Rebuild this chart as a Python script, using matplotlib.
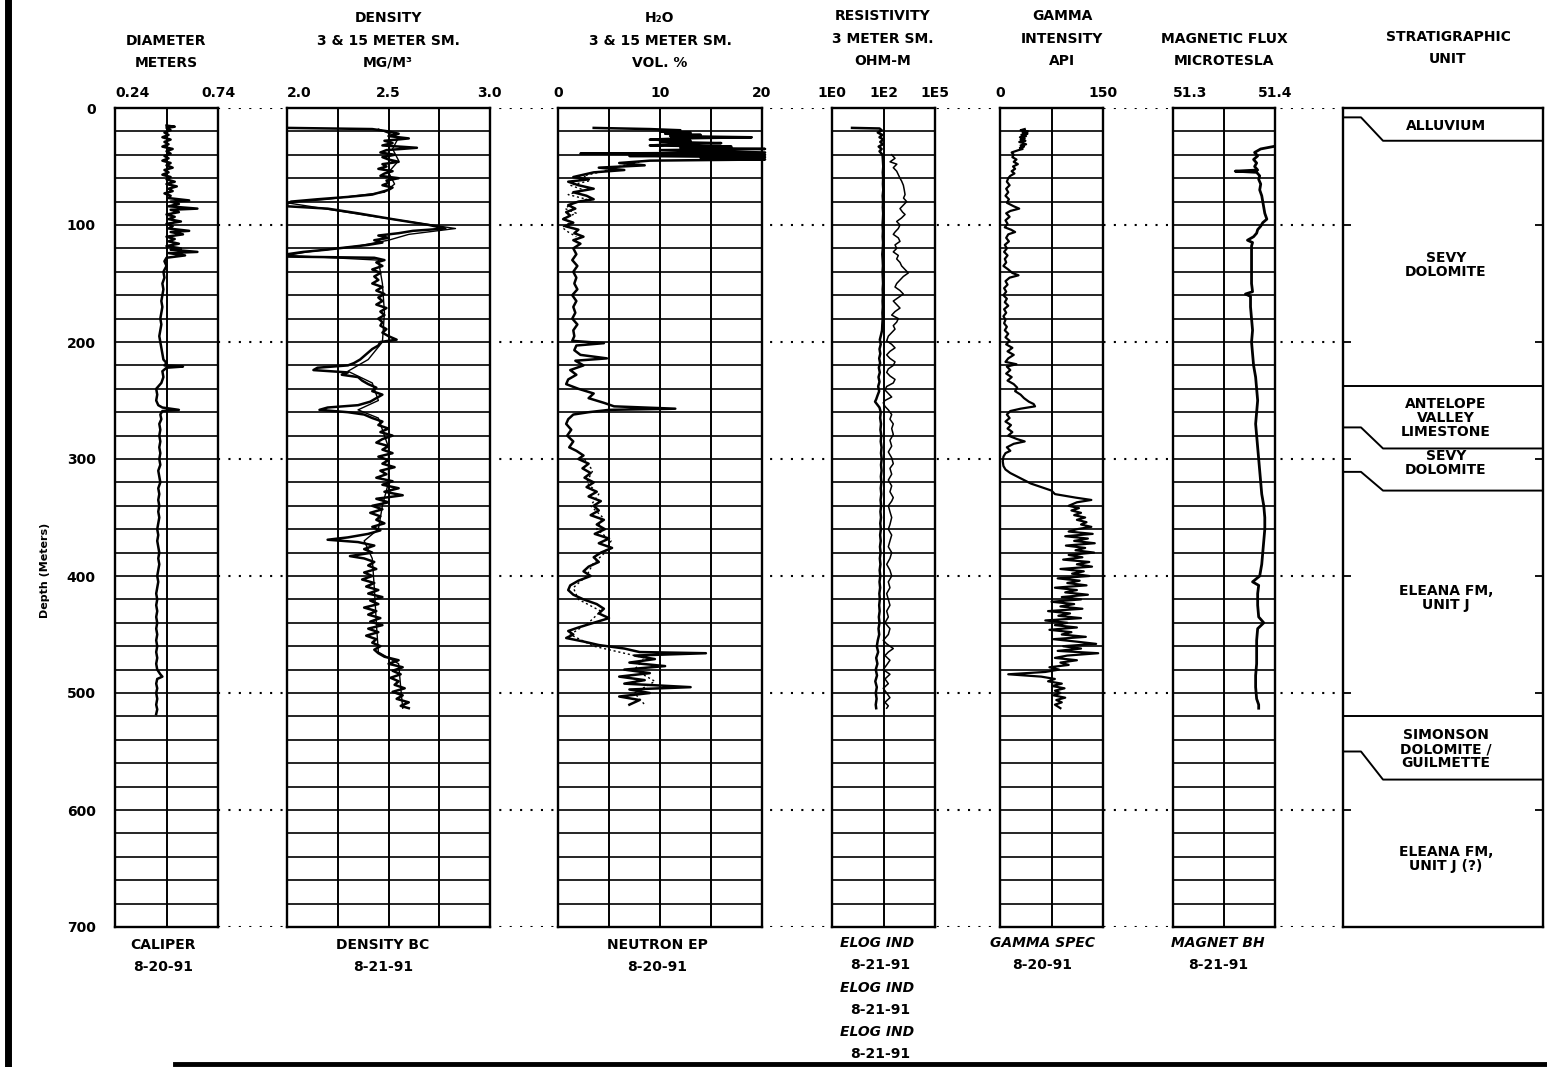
import matplotlib
matplotlib.use("Agg")
import matplotlib.pyplot as plt
from matplotlib.lines import Line2D
from matplotlib.transforms import blended_transform_factory

plt.rcParams['font.family'] = ['DejaVu Sans']
plt.rcParams['font.weight'] = 'bold'

W, H = 1547, 1067
TOP, BOT = 108, 927

# ---- log readings (depth m, value) ----
caliper = [(15,0.49),(16,0.53),(17,0.49),(19,0.51),(21,0.48),(23,0.50),(25,0.47),(27,0.51),(29,0.48),(31,0.50),
           (33,0.47),(35,0.52),(37,0.49),(39,0.51),(41,0.48),(43,0.50),(45,0.47),(47,0.51),(49,0.49),(51,0.52),
           (53,0.48),(55,0.50),(57,0.47),(59,0.51),(61,0.49),(63,0.53),(65,0.49),(67,0.54),(69,0.50),(71,0.52),
           (73,0.48),(75,0.51),(77,0.50),(79,0.60),(80,0.51),(82,0.55),(84,0.50),(86,0.64),(87,0.51),(89,0.55),
           (91,0.49),(93,0.53),(95,0.50),(97,0.56),(99,0.49),(101,0.52),(103,0.50),(105,0.60),(106,0.51),(108,0.57),
           (110,0.49),(112,0.53),(114,0.50),(116,0.55),(118,0.49),(120,0.56),(121,0.51),(123,0.64),(124,0.50),(126,0.58),
           (128,0.49),(131,0.48),(135,0.49),(140,0.475),(145,0.48),(150,0.47),(155,0.475),(160,0.47),(165,0.465),(170,0.47),
           (175,0.465),(180,0.46),(185,0.465),(190,0.46),(195,0.455),(200,0.46),(205,0.465),(210,0.47),(215,0.475),(218,0.49),
           (220,0.48),(221,0.57),(222,0.49),(225,0.47),(230,0.475),(235,0.465),(240,0.44),(245,0.445),(250,0.44),(254,0.45),
           (256,0.47),(258,0.55),(259,0.47),(262,0.46),(266,0.465),(270,0.455),(275,0.46),(280,0.455),(285,0.46),(290,0.455),
           (295,0.46),(300,0.455),(305,0.46),(310,0.45),(315,0.455),(320,0.46),(325,0.45),(330,0.455),(335,0.45),(340,0.455),
           (345,0.45),(350,0.455),(355,0.45),(360,0.445),(365,0.45),(370,0.445),(375,0.45),(380,0.455),(385,0.45),(390,0.455),
           (395,0.45),(400,0.445),(405,0.45),(410,0.445),(415,0.44),(420,0.445),(425,0.44),(430,0.445),(435,0.44),(440,0.445),
           (445,0.44),(450,0.445),(455,0.44),(460,0.445),(465,0.44),(470,0.445),(475,0.44),(480,0.445),(484,0.46),(486,0.47),
           (488,0.445),(492,0.44),(496,0.445),(500,0.44),(505,0.445),(510,0.44),(514,0.445),(518,0.44)]

density_3m = [(17,2.0),(18,2.42),(20,2.50),(22,2.55),(24,2.50),(26,2.60),(28,2.48),(30,2.52),(32,2.47),(34,2.64),
              (36,2.49),(38,2.46),(40,2.53),(42,2.47),(44,2.50),(46,2.55),(48,2.47),(50,2.49),(52,2.45),(54,2.52),
              (56,2.48),(58,2.46),(60,2.55),(62,2.49),(64,2.50),(66,2.47),(68,2.52),(70,2.50),(72,2.46),(74,2.42),
              (76,2.30),(78,2.15),(80,2.02),(82,2.0),(84,2.0),(86,2.20),(90,2.35),(95,2.52),(100,2.70),(103,2.78),
              (105,2.62),(107,2.55),(109,2.45),(111,2.50),(113,2.43),(115,2.47),(117,2.40),(119,2.30),(121,2.20),(123,2.08),
              (125,2.0),(127,2.0),(128,2.43),(130,2.48),(132,2.44),(135,2.47),(138,2.42),(141,2.46),(144,2.43),(147,2.45),
              (150,2.42),(153,2.47),(156,2.44),(159,2.48),(162,2.45),(165,2.47),(168,2.44),(171,2.49),(174,2.46),(177,2.48),
              (180,2.45),(183,2.47),(186,2.46),(189,2.49),(192,2.47),(195,2.50),(198,2.54),(200,2.46),(203,2.45),(206,2.42),
              (209,2.40),(212,2.38),(215,2.36),(218,2.33),(220,2.30),(222,2.15),(224,2.13),(226,2.30),(228,2.27),(230,2.35),
              (233,2.37),(236,2.40),(239,2.44),(242,2.42),(245,2.47),(248,2.44),(251,2.41),(254,2.35),(256,2.20),(258,2.16),
              (260,2.30),(262,2.38),(265,2.42),(268,2.47),(271,2.45),(274,2.50),(277,2.46),(280,2.52),(283,2.47),(286,2.44),
              (289,2.50),(292,2.47),(295,2.52),(298,2.45),(301,2.50),(304,2.47),(307,2.53),(310,2.46),(313,2.49),(316,2.44),
              (319,2.52),(322,2.47),(325,2.55),(328,2.48),(331,2.57),(334,2.44),(337,2.50),(340,2.42),(343,2.47),(346,2.41),
              (349,2.46),(352,2.44),(355,2.48),(358,2.42),(361,2.46),(364,2.40),(367,2.30),(369,2.20),(371,2.35),(374,2.43),
              (377,2.38),(380,2.42),(383,2.31),(385,2.38),(388,2.43),(391,2.40),(394,2.44),(397,2.38),(400,2.42),(403,2.37),
              (406,2.43),(409,2.39),(412,2.45),(415,2.40),(418,2.47),(421,2.41),(424,2.45),(427,2.38),(430,2.44),(433,2.40),
              (436,2.46),(439,2.41),(442,2.47),(445,2.40),(448,2.45),(451,2.39),(454,2.44),(457,2.42),(460,2.46),(463,2.43),
              (466,2.45),(469,2.48),(472,2.55),(475,2.50),(478,2.57),(481,2.52),(484,2.56),(487,2.51),(490,2.55),(493,2.53),
              (496,2.58),(499,2.52),(502,2.57),(505,2.54),(508,2.60),(511,2.56),(513,2.60)]

density_15m = [(18,2.45),(25,2.55),(35,2.52),(45,2.55),(55,2.50),(65,2.53),(72,2.48),(78,2.2),(81,2.0),(92,2.4),
               (103,2.83),(108,2.6),(113,2.5),(118,2.35),(123,2.1),(126,2.0),(130,2.45),(150,2.47),(175,2.48),(200,2.47),
               (215,2.40),(225,2.30),(235,2.42),(250,2.45),(258,2.35),(265,2.45),(290,2.50),(320,2.50),(340,2.47),(360,2.45),
               (370,2.38),(385,2.42),(410,2.43),(440,2.44),(465,2.45),(475,2.55),(495,2.56),(513,2.57)]

h2o_3m = [(17,3.5),(18,9),(19,12),(20,10),(21,13),(22,10.5),(23,14),(24,11),(25,19),(26,12),(27,9),(28,13),(29,10),
          (30,16),(31,11.5),(32,9),(33,17),(34,12),(35,20.3),(36,10),(37,15),(38,20.3),(39,2.2),(40,20.3),(41,7),
          (42,20.3),(43,14),(44,20.3),(45,9),(47,6),(49,8.5),(51,4),(53,6.5),(55,3.5),(57,2.5),(59,1.5),(61,3),(63,1),
          (66,2),(69,3.5),(72,1.5),(75,2.8),(78,3.5),(80,2),(83,1),(86,1.7),(89,0.8),(92,1.2),(95,0.5),(98,1.5),(101,0.7),
          (104,2),(107,1.6),(110,2.5),(113,1.5),(116,2.2),(120,1.5),(125,1.8),(130,1.4),(135,1.9),(140,1.5),(145,1.8),
          (150,1.6),(155,1.9),(160,1.4),(165,1.8),(170,1.5),(175,1.7),(180,1.4),(185,1.9),(190,1.5),(195,1.6),(199,1.4),
          (201,4.5),(203,1.8),(207,1.6),(211,2.2),(214,4.8),(216,1.7),(220,2.5),(224,1.2),(228,1.8),(232,1.0),(236,0.8),
          (240,2.0),(244,3.5),(248,3.0),(252,4.5),(255,5.5),(257,11.5),(258,5.0),(260,3.0),(262,1.5),(266,1.0),(270,0.8),
          (275,1.3),(280,0.9),(285,1.5),(290,1.1),(293,1.8),(297,2.5),(300,2.0),(304,3.0),(308,2.4),(312,3.2),(316,2.6),
          (320,3.5),(324,2.8),(328,3.8),(332,3.0),(336,4.2),(340,3.5),(344,4.0),(348,3.2),(352,4.5),(356,3.8),(360,4.6),
          (364,3.6),(368,5.0),(372,4.0),(376,5.3),(380,4.2),(384,3.5),(388,4.0),(392,3.0),(396,2.5),(400,3.2),(404,2.0),
          (408,1.2),(412,1.0),(416,1.5),(420,2.5),(424,3.8),(428,4.5),(432,4.0),(436,5.0),(440,3.5),(444,2.0),(447,1.0),
          (450,1.5),(453,0.8),(456,2.5),(459,4.0),(462,6.5),(465,8.0),(466,14.5),(468,7.5),(471,9.5),(474,7.0),(477,10.5),
          (480,6.5),(483,9.0),(486,6.0),(489,8.5),(492,6.5),(495,13.0),(497,7.0),(500,9.0),(503,6.0),(506,8.0),(510,7.0)]

h2o_15m_upper = [(46,8),(50,6),(54,4.5),(58,2.5),(62,3.2),(66,1.2),(70,2.5),(74,1.0),(78,2.8),(82,1.3),(86,0.7),
                 (90,1.8),(94,0.6),(98,1.2),(102,0.4),(106,1.0),(110,1.8)]
h2o_15m_lower = [(300,2.6),(310,3.4),(320,2.8),(330,4.0),(340,3.2),(350,4.4),(360,3.8),(370,5.2),(380,4.6),(390,3.4),
                 (400,2.8),(410,1.5),(420,2.0),(430,4.2),(440,3.0),(450,1.2),(460,3.5),(470,8.5),(480,7.5),(490,9.5),
                 (500,7.5),(510,8.5)]

resist_a = [(17,6),(17.5,70),(19,85),(21,60),(23,90),(25,70),(27,100),(29,75),(31,95),(33,65),(35,85),(37,70),(40,92),
            (45,95),(50,98),(55,94),(60,97),(65,95),(70,98),(75,93),(80,96),(85,94),(90,97),(95,95),(100,92),(105,95),
            (110,93),(115,96),(120,94),(125,90),(130,93),(135,95),(140,92),(145,94),(150,96),(155,93),(160,95),(165,92),
            (170,94),(175,91),(180,93),(185,90),(190,88),(194,80),(198,72),(202,78),(206,70),(210,75),(214,68),(218,74),
            (222,66),(226,72),(230,64),(234,70),(238,62),(242,68),(246,58),(249,52),(251,47),(253,55),(256,70),(260,78),
            (265,74),(270,80),(275,76),(280,82),(285,78),(290,84),(295,80),(300,85),(305,80),(310,84),(315,79),(320,83),
            (325,78),(330,82),(335,77),(340,81),(345,76),(350,80),(355,75),(360,79),(365,74),(370,78),(375,73),(380,77),
            (385,72),(390,76),(395,71),(400,75),(405,70),(410,74),(415,69),(420,72),(425,68),(430,71),(435,66),(440,70),
            (445,64),(450,68),(455,60),(460,55),(465,62),(470,52),(475,58),(480,50),(485,56),(490,48),(495,55),(500,50),
            (505,54),(510,50),(513,52)]

resist_b = [(40,208),(43,280),(46,180),(48,330),(51,240),(54,325),(57,376),(60,437),(62.5,506),(66,590),(70,640),
            (74,687),(77,600),(80,795),(83,590),(86,437),(89,550),(91,687),(94,500),(97,325),(100,437),(103,376),
            (106,280),(108,240),(111,376),(114,437),(117,280),(120,325),(123,240),(126,376),(129,325),(132,437),(135,506),
            (138,687),(141,920),(144,590),(147,437),(150,325),(153,280),(156,437),(159,590),(162,376),(165,240),(168,325),
            (171,437),(174,280),(177,208),(180,376),(183,325),(186,240),(189,280),(192,208),(195,154),(199,133),(202,208),
            (205,280),(208,178),(211,133),(214,178),(217,280),(220,240),(223,154),(226,133),(229,178),(232,280),(235,240),
            (238,133),(241,114),(244,154),(247,208),(250,114),(252,98),(255,114),(258,154),(262,208),(266,178),(270,240),
            (274,208),(279,240),(284,178),(289,208),(294,154),(299,208),(304,240),(308,178),(313,208),(318,154),(323,208),
            (328,178),(333,240),(336,208),(340,154),(345,178),(350,208),(356,178),(360,154),(365,208),(370,178),(375,154),
            (380,208),(385,178),(390,133),(395,178),(400,208),(405,154),(410,178),(415,133),(420,154),(425,178),(430,133),
            (435,154),(440,114),(445,178),(450,154),(455,98),(458,133),(462,240),(465,154),(468,114),(472,178),(476,133),
            (480,98),(484,178),(488,114),(492,154),(496,98),(500,133),(504,178),(508,114),(511,154),(513,133)]

gamma = [(18,36),(19,30),(20,41),(21,33),(22,40),(23,31),(24,38),(25,29),(26,36),(27,30),(28,37),(29,28),(30,34),
         (31,38),(32,30),(33,35),(34,29),(35,33),(36,27),(37,22),(38,17),(40,20),(42,18),(44,24),(46,20),(48,26),(50,19),
         (52,22),(54,17),(56,21),(58,15),(60,12),(63,10),(66,14),(69,9),(72,12),(75,8),(78,13),(81,10),(84,20),(86,28),
         (88,15),(90,9),(93,14),(96,8),(99,11),(102,7),(104,16),(106,22),(108,12),(111,9),(114,13),(117,7),(120,10),
         (123,6),(126,11),(129,7),(132,9),(135,5),(138,12),(141,18),(143,27),(145,14),(148,8),(151,11),(154,6),(157,9),
         (160,5),(163,10),(166,7),(169,12),(172,6),(175,9),(178,5),(181,8),(184,6),(187,10),(190,7),(193,12),(196,8),
         (199,14),(202,9),(205,18),(208,11),(211,20),(214,12),(217,8),(219,24),(221,10),(224,15),(227,9),(230,17),
         (233,11),(236,20),(239,25),(242,22),(245,30),(248,35),(251,42),(253,49),(255,51),(257,30),(259,15),(262,10),
         (265,14),(268,8),(271,16),(274,11),(277,18),(280,12),(283,25),(285,36),(287,20),(290,10),(293,15),(295,8),
         (298,5),(302,4),(306,5),(309,8),(312,15),(315,25),(318,35),(321,45),(324,60),(327,75),(330,80),(333,110),
         (335,133),(337,112),(340,100),(342,115),(344,104),(346,118),(348,108),(350,124),(352,112),(354,126),(356,118),
         (358,133),(360,112),(362,100),(364,135),(366,95),(368,128),(370,108),(372,138),(374,96),(376,124),(378,110),
         (380,137),(382,100),(384,120),(386,92),(388,130),(390,112),(392,134),(394,88),(396,122),(398,105),(400,130),
         (402,84),(404,116),(406,98),(408,126),(410,80),(412,112),(414,95),(416,128),(418,90),(420,118),(422,75),
         (424,108),(426,88),(428,120),(430,70),(432,102),(434,85),(436,118),(438,66),(440,98),(442,80),(444,112),
         (446,72),(448,104),(450,90),(452,125),(454,78),(456,110),(458,140),(460,92),(462,118),(464,84),(466,143),
         (468,98),(470,80),(472,112),(474,88),(476,100),(478,72),(480,86),(482,66),(484,12),(486,60),(488,80),(490,70),
         (492,90),(494,76),(496,94),(498,80),(500,88),(502,78),(504,95),(506,82),(508,90),(510,80),(513,88)]

magnet = [(33,51.398),(35,51.386),(38,51.380),(41,51.383),(44,51.379),(47,51.382),(50,51.380),(53,51.383),(54,51.361),
          (55,51.382),(58,51.385),(61,51.384),(65,51.386),(70,51.385),(75,51.387),(80,51.388),(85,51.389),(90,51.390),
          (95,51.392),(98,51.388),(101,51.386),(104,51.383),(107,51.382),(110,51.379),(113,51.373),(115,51.378),
          (118,51.377),(121,51.377),(130,51.377),(140,51.377),(150,51.377),(157,51.378),(159,51.371),(161,51.376),
          (170,51.376),(180,51.377),(190,51.378),(200,51.377),(210,51.378),(220,51.379),(230,51.381),(240,51.382),
          (250,51.383),(260,51.382),(270,51.381),(280,51.382),(290,51.383),(300,51.384),(310,51.385),(320,51.386),
          (330,51.387),(340,51.389),(350,51.390),(360,51.390),(370,51.389),(380,51.388),(390,51.387),(400,51.385),
          (405,51.378),(408,51.384),(415,51.383),(425,51.383),(435,51.384),(440,51.389),(445,51.383),(455,51.382),
          (465,51.382),(475,51.382),(485,51.381),(495,51.381),(505,51.382),(510,51.384),(513,51.384)]

# stratigraphy: contact depth at left edge / right edge of the column
contact_left = [8, 238, 273, 311, 520, 550]
contact_right = [28, 238, 291, 327, 520, 574]
unit_names = ["ALLUVIUM", "SEVY\nDOLOMITE", "ANTELOPE\nVALLEY\nLIMESTONE", "SEVY\nDOLOMITE",
              "ELEANA FM,\nUNIT J", "SIMONSON\nDOLOMITE /\nGUILMETTE", "ELEANA FM,\nUNIT J (?)"]
unit_label_depth = [15, 134, 265, 303, 419, 548, 642]

fig = plt.figure(figsize=(W / 100, H / 100), dpi=100)


def fbox(x0, x1):
    return [x0 / W, 1 - BOT / H, (x1 - x0) / W, (BOT - TOP) / H]


def ftext(x, y, s, **kw):
    kw.setdefault('ha', 'center')
    kw.setdefault('va', 'center')
    kw.setdefault('fontsize', 10)
    kw.setdefault('fontweight', 'bold')
    fig.text(x / W, 1 - y / H, s, **kw)


# dotted 100 m lines running between the tracks
bg = fig.add_axes(fbox(218, 1343))
bg.set_xlim(0, 1)
bg.set_ylim(700, 0)
bg.axis('off')
for d in range(0, 701, 100):
    bg.axhline(d, color='k', lw=1.5, ls=(0, (1, 4)))


def make_track(x0, x1, xlim, ncol, ticks, labels, aligns, log=False):
    ax = fig.add_axes(fbox(x0, x1))
    if log:
        ax.set_xscale('log')
    ax.set_xlim(*xlim)
    ax.set_ylim(700, 0)
    ax.set_xticks([])
    ax.set_yticks([])
    ax.minorticks_off()
    for s in ax.spines.values():
        s.set_linewidth(1.7)
    for d in range(20, 700, 20):
        ax.axhline(d, color='k', lw=1.2, zorder=1)
    for i in range(1, ncol):
        ax.plot([i / ncol] * 2, [0, 1], transform=ax.transAxes, color='k', lw=1.4, zorder=1)
    tr = blended_transform_factory(ax.transData, fig.transFigure)
    for t, lab, a in zip(ticks, labels, aligns):
        ax.text(t, 1 - 93 / H, lab, transform=tr, ha=a, va='center', fontsize=10, fontweight='bold')
    return ax


def curve(ax, pts, lw=1.8, **kw):
    d = [p[0] for p in pts]
    v = [p[1] for p in pts]
    ax.plot(v, d, color='k', lw=lw, zorder=3, **kw)


ax1 = make_track(115, 218, (0.24, 0.74), 2, [0.24, 0.74], ['0.24', '0.74'], ['left', 'center'])
curve(ax1, caliper)
ax1.set_yticks(range(0, 701, 100))
ax1.set_yticklabels([str(d) for d in range(0, 701, 100)], fontsize=10, fontweight='bold')
ax1.tick_params(axis='y', length=0, pad=14)

ax2 = make_track(287, 490, (2.0, 3.0), 4, [2.0, 2.5, 2.995], ['2.0', '2.5', '3.0'], ['left', 'center', 'center'])
curve(ax2, density_15m, lw=1.0)
curve(ax2, density_3m)

ax3 = make_track(558, 762, (0, 20), 4, [0, 10, 20], ['0', '10', '20'], ['center', 'center', 'center'])
curve(ax3, h2o_15m_upper, lw=1.0, ls=(0, (1.5, 2)))
curve(ax3, h2o_15m_lower, lw=1.0, ls=(0, (1.5, 2)))
curve(ax3, h2o_3m, clip_on=False)

ax4 = make_track(832, 935, (1, 1e4), 2, [1, 1e2, 1e4], ['1E0', '1E2', '1E5'], ['center', 'center', 'center'], log=True)
curve(ax4, resist_b, lw=1.1)
curve(ax4, resist_a)

ax5 = make_track(1000, 1103, (0, 150), 2, [0, 150], ['0', '150'], ['center', 'center'])
curve(ax5, gamma, lw=1.6)

ax6 = make_track(1173, 1275, (51.3, 51.4), 2, [51.3, 51.4], ['51.3', '51.4'], ['left', 'center'])
curve(ax6, magnet, lw=2.0)

# stratigraphic column
st = fig.add_axes(fbox(1343, 1543))
st.set_xlim(0, 1)
st.set_ylim(700, 0)
st.set_xticks([])
st.set_yticks(range(100, 700, 100))
st.tick_params(axis='y', direction='in', length=6, width=1.3, left=True, right=True, labelleft=False)
for s in st.spines.values():
    s.set_linewidth(1.7)
for cl, cr in zip(contact_left, contact_right):
    st.plot([0, 0.09, 0.2, 1], [cl, cl, cr, cr], color='k', lw=1.4)
for name, d in zip(unit_names, unit_label_depth):
    st.text(0.515, d, name, ha='center', va='center', fontsize=10, fontweight='bold', linespacing=1.0)

# track headers
ftext(166, 41, 'DIAMETER')
ftext(166, 63, 'METERS')
ftext(388, 18, 'DENSITY')
ftext(388, 41, '3 & 15 METER SM.')
ftext(388, 63, 'MG/M\u00b3')
ftext(660, 18, 'H\u2082O')
ftext(660, 41, '3 & 15 METER SM.')
ftext(660, 63, 'VOL. %')
ftext(883, 16, 'RESISTIVITY')
ftext(883, 39, '3 METER SM.')
ftext(883, 61, 'OHM-M')
ftext(1062, 16, 'GAMMA')
ftext(1062, 39, 'INTENSITY')
ftext(1062, 61, 'API')
ftext(1224, 39, 'MAGNETIC FLUX')
ftext(1224, 61, 'MICROTESLA')
ftext(1448, 37, 'STRATIGRAPHIC')
ftext(1448, 59, 'UNIT')

# tool / run labels under the tracks
ftext(163, 945, 'CALIPER')
ftext(163, 967, '8-20-91')
ftext(383, 945, 'DENSITY BC')
ftext(383, 967, '8-21-91')
ftext(657, 945, 'NEUTRON EP')
ftext(657, 967, '8-20-91')
for i, y in enumerate([943, 988, 1032]):
    ftext(877, y, 'ELOG IND', style='italic')
    ftext(880, y + 22, '8-21-91')
ftext(1042, 943, 'GAMMA SPEC', style='italic')
ftext(1042, 965, '8-20-91')
ftext(1218, 943, 'MAGNET BH', style='italic')
ftext(1218, 965, '8-21-91')

ftext(45, 570, 'Depth (Meters)', rotation=90, fontsize=8)

# sheet border
fig.add_artist(Line2D([8 / W, 8 / W], [0, 1], color='k', lw=5))
fig.add_artist(Line2D([175 / W, 1], [1 - 1064 / H] * 2, color='k', lw=3.5))

fig.savefig('out.png', dpi=100, facecolor='white')
